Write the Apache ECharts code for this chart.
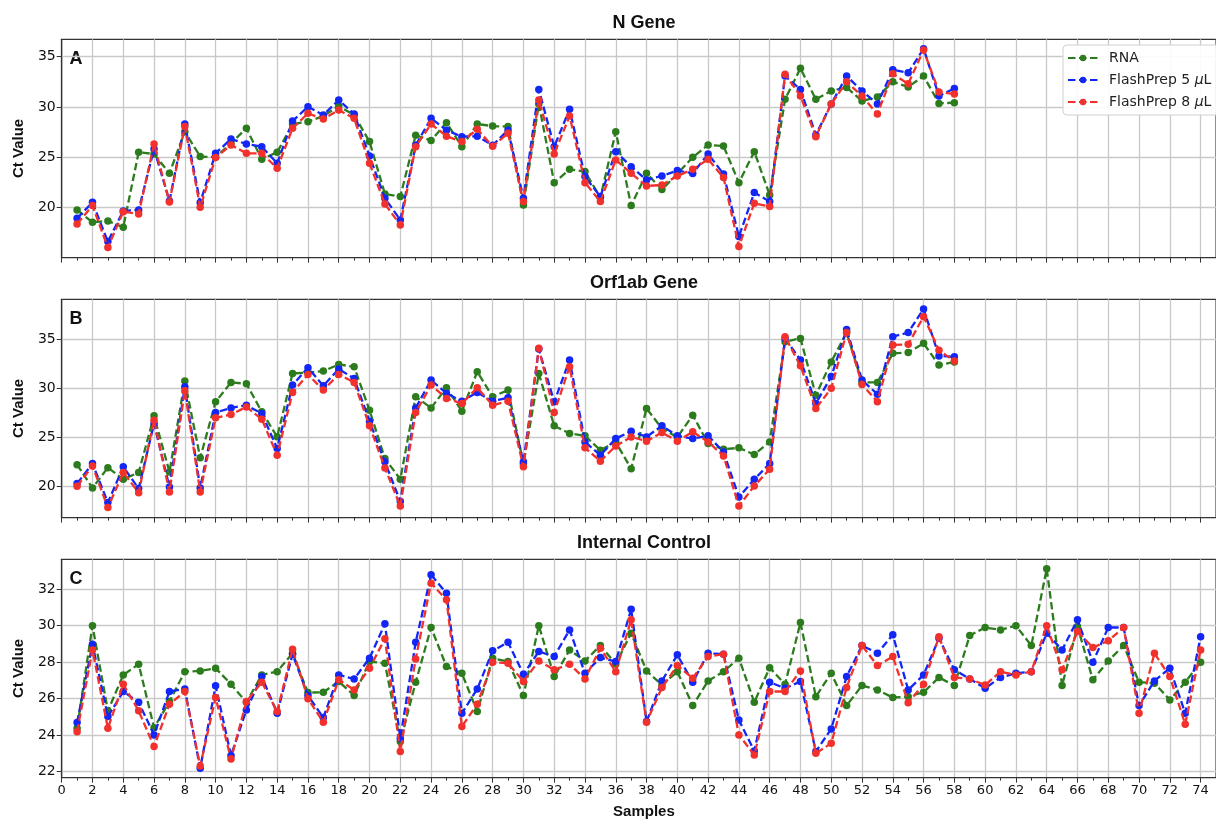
<!DOCTYPE html>
<html>
<head>
<meta charset="utf-8">
<title>Ct Values</title>
<script src="https://cdn.jsdelivr.net/npm/echarts@6/dist/echarts.min.js"></script>
<style>
  html, body { margin: 0; padding: 0; background: #fff; }
  #chart { width: 1216px; height: 822px; }
</style>
</head>
<body>
<div id="chart"></div>
<script>
// ---- data (sample n = index + 1) ----
const rnaN = [19.77, 18.54, 18.68, 18.05, 25.5, 25.33, 23.41, 27.55, 25.07, 25.03, 26.4, 27.88, 24.8, 25.5, 28.3, 28.54, 29.1, 30.1, 29.2, 26.56,
  21.36, 21.1, 27.2, 26.66, 28.44, 26.06, 28.31, 28.1, 28.05, 20.26, 30.3, 22.48, 23.8, 23.58, 21.0, 27.55, 20.2, 23.41, 21.8, 23.35,
  25.0, 26.23, 26.13, 22.48, 25.56, 21.26, 30.76, 33.84, 30.76, 31.6, 31.95, 30.6, 31.0, 32.5, 32.0, 33.08, 30.36, 30.43]
const fp5N = [18.94, 20.53, 16.62, 19.67, 19.77, 25.83, 20.66, 28.31, 20.5, 25.4, 26.82, 26.32, 26.06, 24.4, 28.6, 30.03, 29.2, 30.7, 29.3, 25.13,
  20.93, 18.77, 26.2, 28.87, 27.7, 27.05, 27.1, 26.2, 27.7, 20.93, 31.75, 26.06, 29.77, 23.08, 21.1, 25.56, 24.07, 22.75, 23.15, 23.68,
  23.4, 25.33, 23.35, 17.12, 21.49, 20.6, 33.08, 31.75, 27.22, 30.3, 33.08, 31.6, 30.3, 33.7, 33.4, 35.8, 31.1, 31.85]
const fp8N = [18.38, 20.2, 16.03, 19.6, 19.37, 26.32, 20.56, 28.05, 20.03, 24.97, 26.23, 25.4, 25.4, 23.9, 27.88, 29.37, 28.8, 29.7, 28.87, 24.4,
  20.36, 18.28, 26.06, 28.31, 27.1, 26.56, 27.78, 26.1, 27.38, 20.6, 30.7, 25.33, 29.1, 22.48, 20.6, 24.74, 23.41, 22.15, 22.25, 23.15,
  23.8, 24.8, 23.0, 16.13, 20.43, 20.1, 33.25, 31.1, 27.05, 30.3, 32.5, 31.1, 29.3, 33.3, 32.3, 35.66, 31.5, 31.3]

const rnaOrf = [22.2, 19.83, 21.9, 20.71, 21.4, 27.19, 21.46, 30.74, 22.9, 28.62, 30.6, 30.47, 27.6, 25.05, 31.52, 31.6, 31.76, 32.44, 32.2, 27.77,
  22.83, 20.71, 29.14, 28.0, 30.06, 27.67, 31.69, 29.14, 29.82, 22.3, 31.52, 26.17, 25.39, 25.15, 23.68, 24.5, 21.8, 27.94, 25.9, 25.0,
  27.26, 24.36, 23.78, 23.92, 23.24, 24.53, 34.76, 35.1, 29.3, 32.7, 35.7, 30.6, 30.6, 33.57, 33.67, 34.59, 32.37, 32.7]
const fp5Orf = [20.27, 22.32, 18.33, 21.98, 19.76, 26.4, 19.93, 30.16, 19.83, 27.53, 28.0, 28.28, 27.43, 23.86, 30.33, 32.1, 30.26, 31.97, 31.0, 26.65,
  22.49, 18.46, 28.0, 30.84, 29.48, 28.69, 29.58, 28.69, 29.03, 22.49, 34.01, 28.62, 32.89, 24.53, 23.17, 24.87, 25.62, 25.04, 26.17, 25.15,
  24.87, 25.15, 23.51, 18.9, 20.71, 22.32, 35.1, 32.89, 28.45, 31.2, 36.0, 30.84, 29.4, 35.27, 35.7, 38.1, 33.3, 33.23]
const fp8Orf = [20.0, 22.08, 17.82, 21.4, 19.35, 26.75, 19.42, 29.75, 19.42, 26.99, 27.33, 28.1, 26.85, 23.17, 29.58, 31.4, 29.82, 31.42, 30.6, 26.17,
  21.87, 17.99, 27.53, 30.33, 28.97, 28.45, 30.06, 28.28, 28.69, 21.98, 34.08, 27.53, 32.2, 23.92, 22.56, 24.12, 25.04, 24.6, 25.49, 24.6,
  25.56, 24.53, 23.1, 17.99, 20.03, 21.74, 35.27, 32.3, 27.94, 30.0, 35.7, 30.4, 28.62, 34.42, 34.49, 37.32, 33.9, 32.78]

const rnaIC = [24.38, 30.0, 25.33, 27.3, 27.89, 24.41, 25.84, 27.48, 27.52, 27.67, 26.79, 25.8, 27.3, 27.48, 28.49, 26.33, 26.35, 26.94, 26.17, 28.03,
  27.94, 23.65, 26.9, 29.9, 27.76, 27.39, 25.29, 28.22, 28.03, 26.17, 30.0, 27.21, 28.67, 28.07, 28.91, 27.9, 29.59, 27.52, 26.75, 27.48,
  25.62, 26.97, 27.48, 28.22, 25.8, 27.7, 26.79, 30.17, 26.11, 27.39, 25.62, 26.72, 26.48, 26.06, 26.11, 26.35, 27.16, 26.72, 29.46, 29.9,
  29.77, 30.0, 28.91, 33.12, 26.72, 29.95, 27.03, 28.07, 28.91, 26.9, 26.84, 25.93, 26.9, 28.0]
const fp5IC = [24.69, 28.98, 25.02, 26.39, 25.8, 24.01, 26.39, 26.53, 22.18, 26.7, 22.88, 25.38, 27.21, 25.2, 28.44, 26.17, 24.96, 27.3, 27.08, 28.22,
  30.1, 23.83, 29.09, 32.79, 31.78, 25.2, 26.53, 28.62, 29.09, 27.34, 28.58, 28.31, 29.77, 27.39, 28.25, 28.03, 30.9, 24.74, 26.97, 28.4,
  26.9, 28.49, 28.44, 24.83, 23.13, 26.9, 26.57, 26.94, 23.1, 24.34, 27.21, 28.91, 28.49, 29.5, 26.48, 27.3, 29.31, 27.58, 27.08, 26.57,
  27.16, 27.39, 27.48, 29.59, 28.67, 30.32, 28.0, 29.9, 29.9, 25.62, 26.97, 27.67, 25.2, 29.4]
const fp8IC = [24.19, 28.67, 24.38, 26.79, 25.33, 23.37, 25.69, 26.39, 22.31, 26.06, 22.69, 25.84, 26.9, 25.29, 28.71, 25.99, 24.71, 27.03, 26.48, 27.67,
  29.28, 23.1, 28.18, 32.33, 31.42, 24.47, 25.69, 28.0, 27.94, 26.94, 28.07, 27.58, 27.89, 27.08, 28.76, 27.48, 30.32, 24.71, 26.61, 27.81,
  27.12, 28.31, 28.44, 24.01, 22.91, 26.39, 26.39, 27.52, 23.0, 23.55, 26.61, 28.91, 27.81, 28.31, 25.78, 26.79, 29.4, 27.16, 27.08, 26.75,
  27.48, 27.3, 27.48, 30.0, 27.58, 29.68, 28.8, 29.17, 29.9, 25.2, 28.49, 27.21, 24.6, 28.67]

const panelTitles = ['N Gene', 'Orf1ab Gene', 'Internal Control']
const panelLetters = ['A', 'B', 'C']
const seriesNames = ['RNA', 'FlashPrep 5 μL', 'FlashPrep 8 μL']
const yTicks = [[20, 25, 30, 35], [20, 25, 30, 35], [22, 24, 26, 28, 30, 32]]
const yRanges = [[15.03, 36.73], [16.8, 39.09], [21.67, 33.64]]

const colors = ['#2c7c1e', '#1226f5', '#f2302c']
const panelData = [[rnaN, fp5N, fp8N], [rnaOrf, fp5Orf, fp8Orf], [rnaIC, fp5IC, fp8IC]]

// layout of the three panels (px)
const plotLeft = 61.7
const plotWidth = 1164.5  // x runs 0..75, the right end is cut off like the original
const panelTops = [39.3, 299.3, 559.3]
const panelHeight = 218.3

const gridColor = '#c9c9c9'
const frameColor = '#333'

function pairs(vals) {
  return vals.map((v, i) => [i + 1, v])
}

const grids = []
const xAxes = []
const yAxes = []
const series = []
const graphics = []

panelTops.forEach((top, p) => {
  grids.push({
    left: plotLeft, top: top, width: plotWidth, height: panelHeight,
    show: true, borderColor: frameColor, borderWidth: 1.2, backgroundColor: 'transparent'
  })
  xAxes.push({
    type: 'value', gridIndex: p, min: 0, max: 75, interval: 2,
    axisLine: { show: true, lineStyle: { color: frameColor, width: 1.2 } },
    axisTick: { show: true, length: 5, lineStyle: { color: frameColor } },
    minorTick: { show: true, splitNumber: 2, length: 3, lineStyle: { color: frameColor } },
    axisLabel: {
      show: p === 2, color: '#111', fontSize: 13, fontFamily: 'DejaVu Sans', margin: 7,
      showMaxLabel: false
    },
    splitLine: { show: true, lineStyle: { color: gridColor, width: 1.3 } }
  })
  yAxes.push({
    type: 'value', gridIndex: p, min: yRanges[p][0], max: yRanges[p][1],
    axisLine: { show: true, lineStyle: { color: frameColor, width: 1.2 } },
    axisTick: { show: true, length: 5, customValues: yTicks[p], lineStyle: { color: frameColor } },
    axisLabel: { customValues: yTicks[p], color: '#111', fontSize: 14, fontFamily: 'DejaVu Sans', margin: 6 },
    splitLine: { show: true, lineStyle: { color: gridColor, width: 1.3 } }
  })
  panelData[p].forEach((vals, s) => {
    series.push({
      name: seriesNames[s],
      type: 'line',
      xAxisIndex: p,
      yAxisIndex: p,
      data: pairs(vals),
      symbol: 'circle',
      symbolSize: 7.5,
      showSymbol: true,
      color: colors[s],
      itemStyle: { color: colors[s] },
      lineStyle: { color: colors[s], width: 2.3, type: [7.5, 3.5] },
      z: 2 + s
    })
  })
  // panel title, letter and y name
  graphics.push({
    type: 'text', x: plotLeft + plotWidth / 2, y: top - 16,
    style: {
      text: panelTitles[p], font: 'bold 18px "Liberation Sans", Arial, sans-serif', fill: '#111',
      align: 'center', verticalAlign: 'middle', textAlign: 'center', textVerticalAlign: 'middle'
    }
  })
  graphics.push({
    type: 'text', x: 76, y: top + 20,
    style: {
      text: panelLetters[p], font: 'bold 18px "Liberation Sans", Arial, sans-serif', fill: '#111',
      align: 'center', verticalAlign: 'middle', textAlign: 'center', textVerticalAlign: 'middle'
    }
  })
  graphics.push({
    type: 'text', x: 19, y: top + panelHeight / 2, rotation: Math.PI / 2,
    style: {
      text: 'Ct Value', font: 'bold 15px "Liberation Sans", Arial, sans-serif', fill: '#111',
      align: 'center', verticalAlign: 'middle', textAlign: 'center', textVerticalAlign: 'middle'
    }
  })
})

graphics.push({
  type: 'text', x: plotLeft + plotWidth / 2, y: 812,
  style: {
    text: 'Samples', font: 'bold 15px "Liberation Sans", Arial, sans-serif', fill: '#111',
    align: 'center', verticalAlign: 'middle', textAlign: 'center', textVerticalAlign: 'middle'
  }
})

const option = {
  animation: false,
  backgroundColor: '#fff',
  grid: grids,
  xAxis: xAxes,
  yAxis: yAxes,
  legend: {
    data: seriesNames,
    orient: 'vertical',
    left: 1063,
    top: 45,
    padding: [6, 10, 6, 4],
    itemGap: 8,
    itemWidth: 30,
    itemHeight: 8,
    backgroundColor: 'rgba(255,255,255,0.9)',
    borderColor: '#d0d0d0',
    borderWidth: 1,
    borderRadius: 4,
    textStyle: {
      fontSize: 14, fontFamily: 'DejaVu Sans', color: '#222', padding: [0, 0, 0, 6],
      rich: { i: { fontSize: 14, fontFamily: 'DejaVu Sans', fontStyle: 'italic', color: '#222' } }
    },
    formatter: function (name) {
      return name.replace('μ', '{i|μ}')
    }
  },
  graphic: graphics,
  series: series
}

const myChart = echarts.init(document.getElementById('chart'))
myChart.setOption(option)
</script>
</body>
</html>
